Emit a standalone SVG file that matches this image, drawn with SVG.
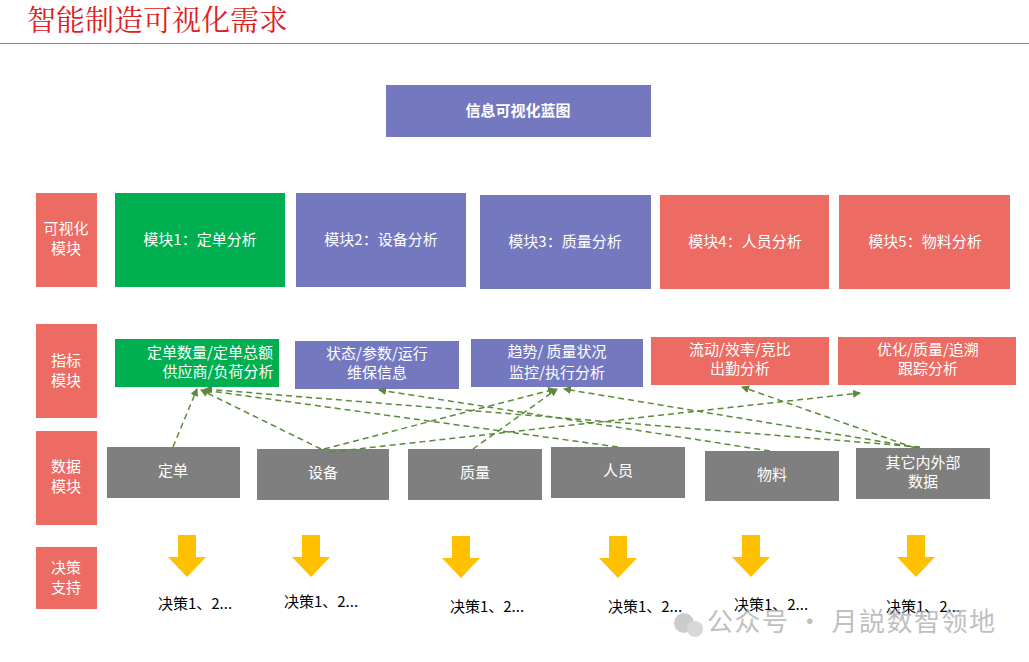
<svg xmlns="http://www.w3.org/2000/svg" width="1029" height="662" viewBox="0 0 1029 662">
<defs>
<style>
text{font-family:"Microsoft YaHei","Noto Sans CJK SC",sans-serif;}
.w{fill:#fff;font-size:15px;text-anchor:middle}
.red{fill:#EC6B63}.pur{fill:#7479BF}.grn{fill:#00B050}.gry{fill:#7F7F7F}
.d{fill:#000;font-size:15px;text-anchor:middle}
.c line{stroke:#5B8A3A;stroke-width:1.5;stroke-dasharray:6 4;marker-end:url(#ah)}
.ya{fill:#FFC000}
</style>
<marker id="ah" markerWidth="8" markerHeight="8" refX="7" refY="4" orient="auto" markerUnits="userSpaceOnUse"><path d="M0,0 L8,4 L0,8 Z" fill="#5B8A3A"/></marker>
</defs>
<rect width="1029" height="662" fill="#fff"/>
<text x="27" y="31" font-size="29" fill="#E02020" style="font-family:'Noto Serif CJK SC','Noto Sans CJK SC',serif">智能制造可视化需求</text>
<line x1="0" y1="43.5" x2="1029" y2="43.5" stroke="#888" stroke-width="1"/>
<g id="blueprint"><rect x="386" y="85" width="265" height="52" class="pur"/><text x="518" y="116" class="w" font-weight="bold">信息可视化蓝图</text></g>
<g id="lab1"><rect x="36" y="193" width="61" height="94" class="red"/><text x="66" y="234" class="w">可视化</text><text x="66" y="254" class="w">模块</text></g>
<g id="lab2"><rect x="36" y="324" width="61" height="94" class="red"/><text x="66" y="366" class="w">指标</text><text x="66" y="386" class="w">模块</text></g>
<g id="lab3"><rect x="36" y="431" width="61" height="94" class="red"/><text x="66" y="472" class="w">数据</text><text x="66" y="492" class="w">模块</text></g>
<g id="lab4"><rect x="36" y="547" width="61" height="62" class="red"/><text x="66" y="573" class="w">决策</text><text x="66" y="593" class="w">支持</text></g>
<g id="m1"><rect x="115" y="193" width="170" height="94" class="grn"/><text x="200" y="245" class="w">模块1：定单分析</text></g>
<g id="m2"><rect x="296" y="193" width="170" height="94" class="pur"/><text x="381" y="245" class="w">模块2：设备分析</text></g>
<g id="m3"><rect x="480" y="195" width="171" height="94" class="pur"/><text x="565" y="247" class="w">模块3：质量分析</text></g>
<g id="m4"><rect x="660" y="195" width="169" height="94" class="red"/><text x="745" y="247" class="w">模块4：人员分析</text></g>
<g id="m5"><rect x="839" y="195" width="171" height="94" class="red"/><text x="925" y="247" class="w">模块5：物料分析</text></g>
<g id="i1"><rect x="115" y="339" width="164" height="48" class="grn"/><text x="210" y="358" class="w">定单数量/定单总额</text><text x="218" y="377" class="w">供应商/负荷分析</text></g>
<g id="i2"><rect x="295" y="341" width="164" height="48" class="pur"/><text x="377" y="359" class="w">状态/参数/运行</text><text x="377" y="378" class="w">维保信息</text></g>
<g id="i3"><rect x="471" y="339" width="172" height="48" class="pur"/><text x="557" y="357" class="w">趋势/ 质量状况</text><text x="557" y="378" class="w">监控/执行分析</text></g>
<g id="i4"><rect x="651" y="337" width="178" height="48" class="red"/><text x="740" y="355" class="w">流动/效率/竞比</text><text x="740" y="374" class="w">出勤分析</text></g>
<g id="i5"><rect x="838" y="337" width="178" height="48" class="red"/><text x="928" y="355" class="w">优化/质量/追溯</text><text x="928" y="374" class="w">跟踪分析</text></g>
<g id="d1"><rect x="107" y="447" width="133" height="51" class="gry"/><text x="173" y="476" class="w">定单</text></g>
<g id="d2"><rect x="257" y="449" width="132" height="51" class="gry"/><text x="323" y="478" class="w">设备</text></g>
<g id="d3"><rect x="408" y="449" width="134" height="51" class="gry"/><text x="475" y="478" class="w">质量</text></g>
<g id="d4"><rect x="551" y="447" width="134" height="51" class="gry"/><text x="618" y="476" class="w">人员</text></g>
<g id="d5"><rect x="705" y="451" width="134" height="50" class="gry"/><text x="772" y="480" class="w">物料</text></g>
<g id="d6"><rect x="856" y="448" width="134" height="51" class="gry"/><text x="923" y="468" class="w">其它内外部</text><text x="923" y="487" class="w">数据</text></g>
<g id="connectors" class="c">
<line x1="173" y1="447" x2="197" y2="389"/>
<line x1="321" y1="449" x2="201" y2="390"/>
<line x1="618" y1="447" x2="203" y2="390"/>
<line x1="920" y1="447" x2="205" y2="389"/>
<line x1="770" y1="451" x2="379" y2="390"/>
<line x1="473" y1="449" x2="557" y2="389"/>
<line x1="324" y1="449" x2="555" y2="389"/>
<line x1="920" y1="448" x2="564" y2="389"/>
<line x1="915" y1="448" x2="742" y2="387"/>
<line x1="330" y1="452" x2="860" y2="393"/>
</g>
<g id="arrows">
<path class="ya" d="M178,535h18v22h10l-19,20l-19,-20h10z"/>
<path class="ya" d="M302,535h18v22h10l-19,20l-19,-20h10z"/>
<path class="ya" d="M452,536h18v22h10l-19,20l-19,-20h10z"/>
<path class="ya" d="M609,536h18v22h10l-19,20l-19,-20h10z"/>
<path class="ya" d="M742,535h18v22h10l-19,20l-19,-20h10z"/>
<path class="ya" d="M907,535h18v22h10l-19,20l-19,-20h10z"/>
</g>
<g id="decisions">
<text x="195" y="609" class="d">决策1、2...</text>
<text x="321" y="607" class="d">决策1、2...</text>
<text x="487" y="612" class="d">决策1、2...</text>
<text x="645" y="612" class="d">决策1、2...</text>
<text x="771" y="610" class="d">决策1、2...</text>
<text x="923" y="612" class="d">决策1、2...</text>
</g>
<g id="watermark" opacity="0.75">
<circle cx="684" cy="623" r="10" fill="#bbb"/><circle cx="695" cy="629" r="8" fill="#ccc"/>
<text x="707" y="631" font-size="26" fill="#aaa" textLength="288">公众号 · 月説数智领地</text>
</g>
</svg>
